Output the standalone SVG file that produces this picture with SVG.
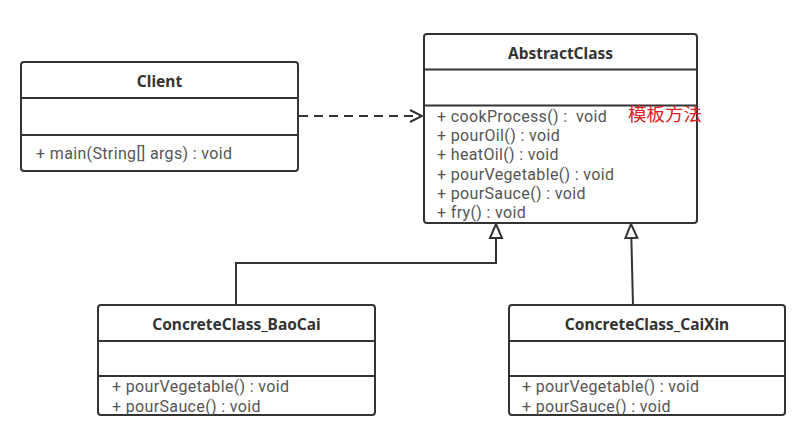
<svg xmlns="http://www.w3.org/2000/svg" width="810" height="442" viewBox="0 0 810 442">
  <style>
    .box { fill: #ffffff; stroke: #333333; stroke-width: 2; }
    .sep { stroke: #333333; stroke-width: 2; fill: none; }
    .title { font-family: "Noto Sans", "Open Sans", sans-serif; font-size: 15.5px; font-weight: bold; fill: #333333; text-anchor: middle; dominant-baseline: central; }
    .member { font-family: Roboto, "Noto Sans", sans-serif; font-size: 16px; letter-spacing: 0.35px; fill: #555555; white-space: pre; }
    .edge { stroke: #333333; stroke-width: 2; fill: none; }
    .note { font-family: "Noto Sans CJK SC", "Noto Sans", sans-serif; font-size: 18.5px; fill: #e02020; }
  </style>
  <defs>
    <marker id="open-arrow" viewBox="0 0 14 14" refX="13" refY="7" markerWidth="14" markerHeight="14" markerUnits="userSpaceOnUse" orient="auto">
      <path d="M1,1 L13,7 L1,13" fill="none" stroke="#333333" stroke-width="2"/>
    </marker>
    <marker id="inherit" viewBox="0 0 16 16" refX="15" refY="8" markerWidth="16" markerHeight="16" markerUnits="userSpaceOnUse" orient="auto">
      <path d="M1,2 L15,8 L1,14 Z" fill="#ffffff" stroke="#333333" stroke-width="2" stroke-linejoin="miter"/>
    </marker>
  </defs>

  <rect width="810" height="442" fill="#ffffff"/>

  <!-- connectors -->
  <g id="connectors">
    <path class="edge" d="M299,116 L422,116" stroke-dasharray="9,6" marker-end="url(#open-arrow)"/>
    <path class="edge" d="M236,305 L236,263 L496,263 L496,224" marker-end="url(#inherit)"/>
    <path class="edge" d="M633,305 L631,224" marker-end="url(#inherit)"/>
  </g>

  <!-- Client -->
  <g id="client">
    <rect class="box" x="21" y="62" width="277" height="109" rx="3"/>
    <line class="sep" x1="21" y1="98" x2="298" y2="98"/>
    <line class="sep" x1="21" y1="135" x2="298" y2="135"/>
    <text class="title" x="159.5" y="81">Client</text>
    <text class="member" x="36" y="159">+ main(String[] args) : void</text>
  </g>

  <!-- AbstractClass -->
  <g id="abstract-class">
    <rect class="box" x="424" y="34" width="273" height="189" rx="3"/>
    <line class="sep" x1="424" y1="69.5" x2="697" y2="69.5"/>
    <line class="sep" x1="424" y1="105.5" x2="697" y2="105.5"/>
    <text class="title" x="560.5" y="53">AbstractClass</text>
    <text class="member" x="437" y="121.5" xml:space="preserve">+ cookProcess() :  void</text>
    <text class="member" x="437" y="141">+ pourOil() : void</text>
    <text class="member" x="437" y="160">+ heatOil() : void</text>
    <text class="member" x="437" y="179.5">+ pourVegetable() : void</text>
    <text class="member" x="437" y="198.5">+ pourSauce() : void</text>
    <text class="member" x="437" y="217.5">+ fry() : void</text>
    <text class="note" x="628" y="121">模板方法</text>
  </g>

  <!-- ConcreteClass_BaoCai -->
  <g id="concrete-baocai">
    <rect class="box" x="98" y="305" width="277" height="110" rx="3"/>
    <line class="sep" x1="98" y1="341" x2="375" y2="341"/>
    <line class="sep" x1="98" y1="376" x2="375" y2="376"/>
    <text class="title" x="236.5" y="324">ConcreteClass_BaoCai</text>
    <text class="member" x="112" y="392">+ pourVegetable() : void</text>
    <text class="member" x="112" y="411.5">+ pourSauce() : void</text>
  </g>

  <!-- ConcreteClass_CaiXin -->
  <g id="concrete-caixin">
    <rect class="box" x="509" y="305" width="276" height="110" rx="3"/>
    <line class="sep" x1="509" y1="341" x2="785" y2="341"/>
    <line class="sep" x1="509" y1="376" x2="785" y2="376"/>
    <text class="title" x="647" y="324">ConcreteClass_CaiXin</text>
    <text class="member" x="522" y="392">+ pourVegetable() : void</text>
    <text class="member" x="522" y="411.5">+ pourSauce() : void</text>
  </g>
</svg>
